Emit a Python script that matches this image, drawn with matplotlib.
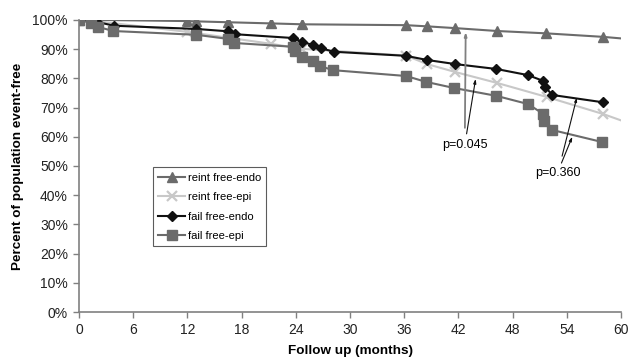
import matplotlib
matplotlib.use("Agg")
import matplotlib.pyplot as plt

plt.rcParams['font.family'] = ['Liberation Sans', 'DejaVu Sans']

# reint free-endo (triangles)
rfe_x = [0, 2, 12, 13, 16.5, 21.3, 24.7, 36.2, 38.5, 41.6, 46.3, 51.7, 58, 61]
rfe_y = [100, 100, 99.6, 99.5, 99.2, 98.8, 98.5, 98.2, 97.8, 97.2, 96.2, 95.4, 94.2, 93.4]

# reint free-epi (x markers)
rfp_x = [0, 0.7, 12, 21.3, 24.7, 36.2, 38.5, 41.6, 46.3, 51.8, 58, 61]
rfp_y = [100, 100, 95.9, 91.8, 90.1, 87.8, 84.9, 82.2, 78.4, 73.6, 67.8, 64.5]

# fail free-endo (diamonds)
ffe_x = [0, 2, 3.9, 13, 16.5, 17.3, 23.7, 24.7, 25.9, 26.8, 28.2, 36.2, 38.5, 41.6,
         46.2, 49.7, 51.4, 51.6, 52.4, 58]
ffe_y = [100, 99.3, 98.0, 96.9, 96.1, 95.1, 93.8, 92.5, 91.4, 90.3, 89.1, 87.7, 86.3,
         84.9, 83.2, 81.1, 79.1, 77.0, 74.3, 71.8]

# fail free-epi (squares)
ffp_x = [0, 1.3, 2.1, 3.8, 13, 16.5, 17.2, 23.7, 23.9, 24.7, 25.9, 26.7, 28.1, 36.2,
         38.4, 41.5, 46.2, 49.7, 51.4, 51.5, 52.4, 57.9]
ffp_y = [100, 99.0, 97.6, 96.2, 94.9, 93.5, 92.1, 90.8, 89.2, 87.3, 86.0, 84.2, 82.8,
         80.8, 78.8, 76.7, 74.0, 71.2, 67.8, 65.4, 62.3, 58.2]

x_ticks = [0, 6, 12, 18, 24, 30, 36, 42, 48, 54, 60]
y_ticks = [0, 10, 20, 30, 40, 50, 60, 70, 80, 90, 100]

fig = plt.figure(figsize=(6.37, 3.62), dpi=100)
ax = fig.add_axes([0.124, 0.138, 0.851, 0.807])

ax.plot(rfe_x, rfe_y, color='#6b6b6b', lw=1.5, marker='^', ms=7, label='reint free-endo')
ax.plot(rfp_x, rfp_y, color='#c8c8c8', lw=1.5, marker='x', ms=6.5, mew=1.6, label='reint free-epi')
ax.plot(ffe_x, ffe_y, color='#111111', lw=1.5, marker='D', ms=5.5, label='fail free-endo')
ax.plot(ffp_x, ffp_y, color='#6b6b6b', lw=1.5, marker='s', ms=6.5, label='fail free-epi')

ax.set_xlim(0, 60)
ax.set_ylim(0, 100)
ax.set_xticks(x_ticks)
ax.set_yticks(y_ticks)
ax.set_yticklabels([f"{v}%" for v in y_ticks])
for s in ['top', 'right']:
    ax.spines[s].set_visible(False)
for s in ['left', 'bottom']:
    ax.spines[s].set_color('#808080')
    ax.spines[s].set_linewidth(1.2)
ax.tick_params(axis='both', labelsize=10, color='#808080', length=4, width=1, pad=4,
               labelcolor='#222222')

ax.set_xlabel('Follow up (months)', fontsize=9.7, fontweight='bold', labelpad=6)
ax.set_ylabel('Percent of population event-free', fontsize=9.7, fontweight='bold', labelpad=6)

leg = ax.legend(loc='upper left', bbox_to_anchor=(0.137, 0.495), fontsize=8.1,
                frameon=True, fancybox=False, edgecolor='#333333', borderpad=0.45,
                handlelength=2.4, handletextpad=0.2, labelspacing=0.85, borderaxespad=0)
leg.get_frame().set_linewidth(0.8)

arrow = '-|>,head_length=0.25,head_width=0.08'
# annotations
ax.annotate('p=0.045', xy=(42.8, 95.9), xytext=(42.7, 57.2), fontsize=9,
            ha='center', va='center',
            arrowprops=dict(arrowstyle=arrow, color='#808080', lw=1.3,
                            shrinkA=6, shrinkB=0))
ax.annotate('', xy=(43.9, 79.8), xytext=(42.9, 61.0),
            arrowprops=dict(arrowstyle=arrow, color='#111111', lw=0.8,
                            shrinkA=0, shrinkB=0))
ax.annotate('p=0.360', xy=(55.1, 73.4), xytext=(53.0, 47.6), fontsize=9,
            ha='center', va='center',
            arrowprops=dict(arrowstyle=arrow, color='#111111', lw=0.8,
                            shrinkA=6, shrinkB=0))
ax.annotate('', xy=(54.6, 60.0), xytext=(53.4, 51.0),
            arrowprops=dict(arrowstyle=arrow, color='#111111', lw=0.8,
                            shrinkA=0, shrinkB=0))

fig.savefig('out.png', dpi=100)
